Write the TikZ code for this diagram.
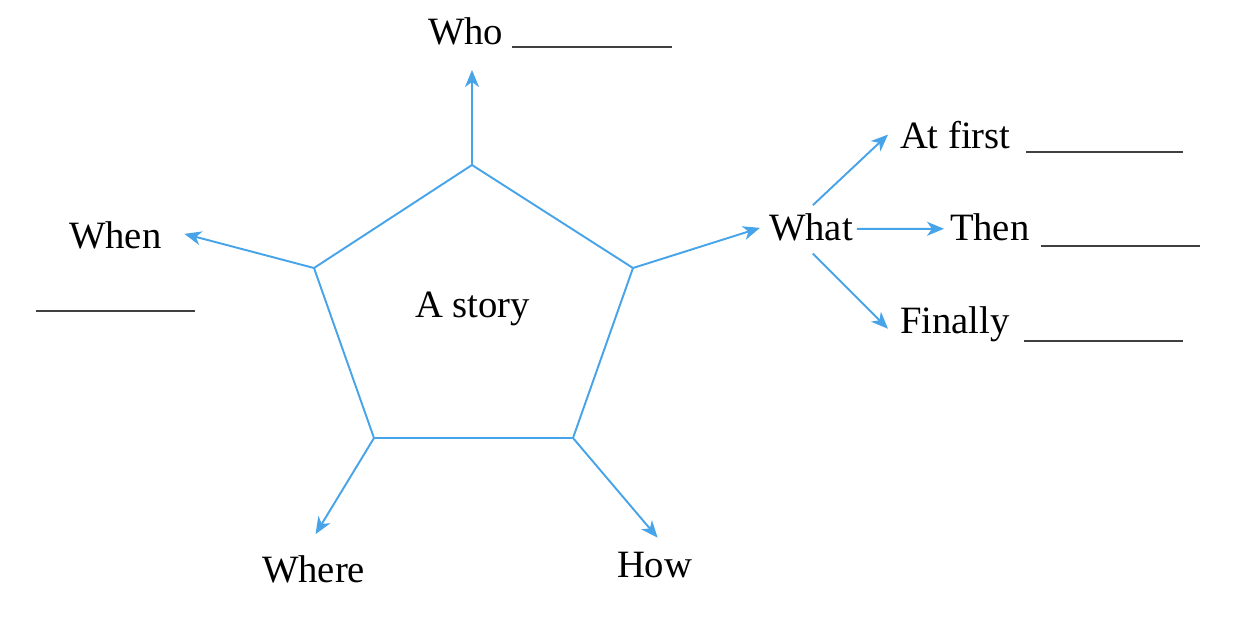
\documentclass[tikz,border=0pt]{standalone}
\usepackage{fontspec}
\setmainfont{Liberation Serif}
\usetikzlibrary{arrows.meta}
\usetikzlibrary{calc}
\definecolor{storyblue}{RGB}{72,164,232}

\begin{document}
\begin{tikzpicture}[x=0.01cm,y=-0.01cm]

% Define styles
\tikzset{
    word/.style={inner sep=0pt, outer sep=0pt, font=\fontsize{11}{13}\selectfont},
    edge/.style={storyblue, line width=0.55pt},
    link/.style={edge, -{Stealth[length=1.7mm, width=1.4mm, inset=0.5mm]}},
    blank/.style={black!75, line width=0.5pt}
}

% page size in pixels
\useasboundingbox (0,0) rectangle (1245,639);

% corners of the pentagon
\coordinate (T) at (472,165);
\coordinate (R) at (633,268);
\coordinate (BR) at (573,438);
\coordinate (BL) at (374,438);
\coordinate (L) at (314,268);

\draw[edge] (T) -- (R) -- (BR) -- (BL) -- (L) -- cycle;
\node[word, anchor=base west] (story) at (415,317) {A story};

% words round the pentagon
\node[word, anchor=base west] (who) at (428,44) {Who};
\node[word, anchor=base west] (when) at (69,248) {When};
\node[word, anchor=base west] (what) at (769,240) {What};
\node[word, anchor=base west] (where) at (262,582) {Where};
\node[word, anchor=base west] (how) at (617,577) {How};

% the three steps of what
\node[word, anchor=base west] (first) at (900,148) {At first};
\node[word, anchor=base west] (then) at (950,240) {Then};
\node[word, anchor=base west] (finally) at (900,333) {Finally};

% arrows out of the corners
\draw[link] (T) -- ($(T |- who.base)+(0,26)$);
\draw[link] (L) -- ($(when.east)+(23,-1)$);
\draw[link] (R) -- ($(what.west)+(-9,1)$);
\draw[link] (BL) -- ($(where.north)+(2,-21)$);
\draw[link] (BR) -- ($(how.north)+(3,-14)$);

% arrows out of what
\draw[link] ($(what.north)+(2,-8)$) -- ($(first.west)+(-12,0)$);
\draw[link] ($(what.east)+(4,2)$) -- ($(then.west)+(-6,2)$);
\draw[link] ($(what.south)+(2,13)$) -- ($(finally.west)+(-12,5)$);

% lines to write on
\draw[blank] (512,47) -- (672,47);
\draw[blank] (36,311) -- (195,311);
\draw[blank] (1026,152) -- (1183,152);
\draw[blank] (1041,246) -- (1200,246);
\draw[blank] (1024,341) -- (1183,341);

\end{tikzpicture}
\end{document}
